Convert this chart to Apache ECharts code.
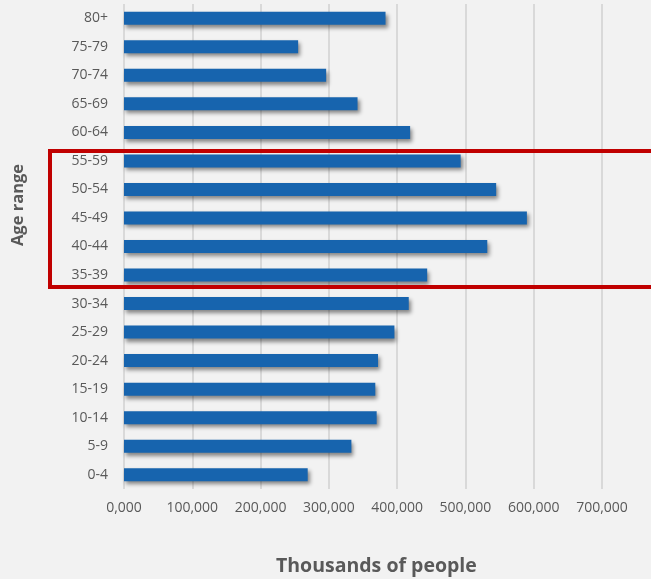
<!DOCTYPE html>
<html>
<head>
<meta charset="utf-8">
<script src="https://cdn.jsdelivr.net/npm/echarts@6/dist/echarts.min.js"></script>
<style>
  html, body { margin: 0; padding: 0; background: #f2f2f2; }
  #chart { width: 651px; height: 579px; }
</style>
</head>
<body>
<div id="chart"></div>
<script>
// age groups, bottom to top
var ageGroups = ['0-4', '5-9', '10-14', '15-19', '20-24', '25-29', '30-34', '35-39',
  '40-44', '45-49', '50-54', '55-59', '60-64', '65-69', '70-74', '75-79', '80+'];
// thousands of people
var population = [269000, 333000, 370000, 368000, 372000, 396000, 417000, 444000,
  532000, 590000, 545000, 493000, 419000, 342000, 296000, 255000, 383000];
var xTicks = [0, 100000, 200000, 300000, 400000, 500000, 600000, 700000];
// highlighted range
var highlightFrom = '35-39';
var highlightTo = '55-59';

var chart = echarts.init(document.getElementById('chart'));

function fmt(v) {
  if (v === 0) return '0,000';
  return v.toString().replace(/\B(?=(\d{3})+(?!\d))/g, ',');
}

chart.setOption({
  backgroundColor: '#f2f2f2',
  animation: false,
  grid: { left: 124, right: 49, top: 4, bottom: 90, containLabel: false },
  xAxis: {
    type: 'value',
    min: xTicks[0],
    max: xTicks[xTicks.length - 1],
    interval: 100000,
    axisLine: { show: false },
    axisTick: { show: false },
    splitLine: { show: true, lineStyle: { color: '#d9d9d9', width: 2 } },
    axisLabel: { color: '#595959', fontSize: 14, margin: 12, formatter: fmt,
      fontFamily: 'Open Sans, sans-serif' }
  },
  yAxis: {
    type: 'category',
    data: ageGroups,
    axisLine: { show: false },
    axisTick: { show: false },
    axisLabel: { color: '#595959', fontSize: 14, margin: 16,
      fontFamily: 'Open Sans, sans-serif' }
  },
  series: [{
    type: 'bar',
    data: population,
    barWidth: 13,
    itemStyle: {
      color: '#1764ae',
      shadowColor: 'rgba(0,0,0,0.45)',
      shadowBlur: 4,
      shadowOffsetX: 2,
      shadowOffsetY: 3
    }
  }]
});

var topY = chart.convertToPixel({ yAxisIndex: 0 }, highlightTo) - 10;
var botY = chart.convertToPixel({ yAxisIndex: 0 }, highlightFrom) + 12;

chart.setOption({
  graphic: [
    {
      type: 'rect',
      shape: { x: 50, y: topY, width: 640, height: botY - topY },
      style: { fill: 'none', stroke: '#c00000', lineWidth: 4 },
      z: 100
    },
    {
      type: 'text',
      left: 276, top: 556,
      style: { text: 'Thousands of people', fill: '#595959',
        font: 'bold 19.5px "Open Sans", sans-serif' }
    },
    {
      type: 'text',
      x: 18, y: 205,
      rotation: Math.PI / 2,
      style: { text: 'Age range', fill: '#595959', align: 'center', verticalAlign: 'middle',
        font: 'bold 16.5px "Open Sans", sans-serif' }
    }
  ]
});
</script>
</body>
</html>
